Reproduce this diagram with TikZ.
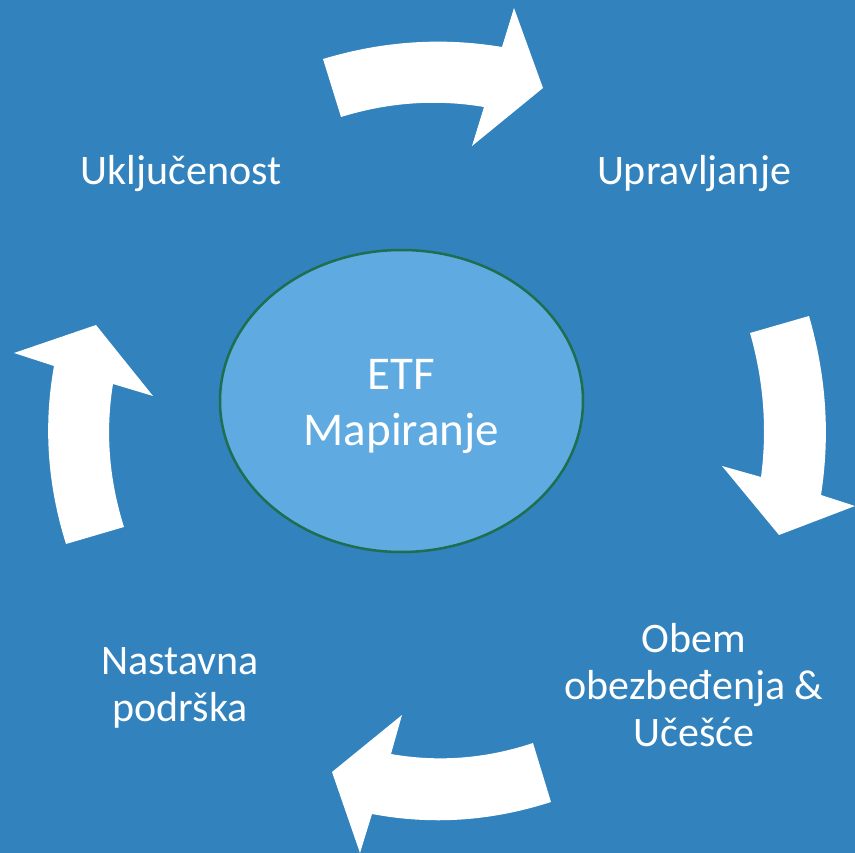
\documentclass[tikz,border=0pt]{standalone}
\usepackage{fontspec}
\setmainfont{Carlito}
\usetikzlibrary{shapes.geometric}
\definecolor{bgblue}{RGB}{49,130,189}
\definecolor{ellfill}{RGB}{94,170,225}
\definecolor{ellline}{RGB}{30,110,80}
\tikzset{
  cyclearrow/.style={fill=white, draw=none},
  lbl/.style={text=white, font=\fontsize{42}{47}\selectfont, align=center, inner sep=0pt, anchor=base},
  hubtxt/.style={lbl, font=\fontsize{47}{56}\selectfont},
  hub/.style={ellipse, fill=ellfill, draw=ellline, line width=2.5pt, inner sep=0pt,
    minimum width=363pt, minimum height=302pt}
}
\begin{document}
\begin{tikzpicture}[x=1pt,y=-1pt]
\useasboundingbox[fill=bgblue] (0,0) rectangle (855,853);
% top arrow
\fill[cyclearrow] (323,59) .. controls (382.7,41) and (442.3,37) .. (502,47) -- (514,8) -- (543,88) -- (472,146)
  -- (484,107) .. controls (436.3,99) and (388.7,102.3) .. (341,117) -- cycle;
% right arrow
\fill[cyclearrow] (809,316) .. controls (826.3,375.7) and (830.3,435.3) .. (821,495) -- (855,506) -- (779,535) -- (722,466)
  -- (761,477) .. controls (767.3,429) and (763.7,381) .. (750,333) -- cycle;
% bottom arrow
\fill[cyclearrow] (533,743) .. controls (485.7,758.7) and (438.3,762.3) .. (391,754) -- (402,715) -- (332,772) -- (360,853)
  -- (372,814) .. controls (431.7,825.3) and (491.3,821.3) .. (551,802) -- cycle;
% left arrow
\fill[cyclearrow] (124,527) .. controls (109,479.3) and (105.3,431.7) .. (113,384) -- (153,396) -- (96,325) -- (14,353)
  -- (54,366) .. controls (43.3,425.3) and (47.3,484.7) .. (66,544) -- cycle;
% hub
\node[hub] (hub) at (401.5,401) {};
\node[hubtxt] (hubtext) at (401.5,445) {ETF\\Mapiranje};
% labels
\node[lbl] (ukljucenost) at (181,185) {Uključenost};
\node[lbl] (upravljanje) at (694,185) {Upravljanje};
\node[lbl] (obem) at (694,746.7) {Obem\\obezbeđenja \&\\Učešće};
\node[lbl] (nastavna) at (180,721.7) {Nastavna\\podrška};
\end{tikzpicture}
\end{document}
